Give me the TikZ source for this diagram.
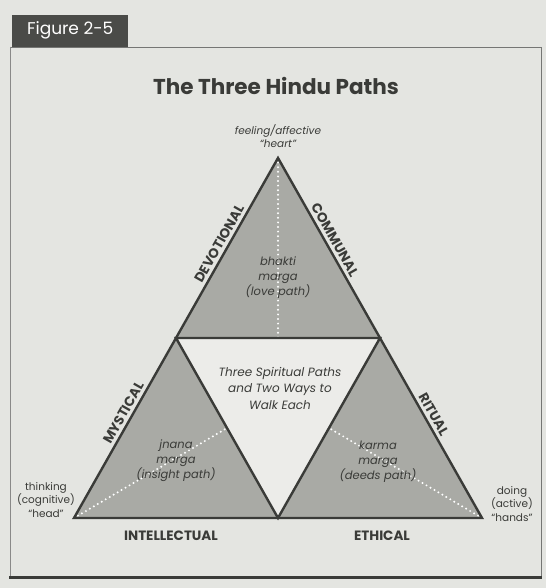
\documentclass[tikz,border=0pt]{standalone}
\usepackage{fontspec}
\setmainfont{Poppins}
\definecolor{bgc}{HTML}{E4E5E1}
\definecolor{innerc}{HTML}{ECECE9}
\definecolor{trif}{HTML}{A9AAA5}
\definecolor{linec}{HTML}{3A3B38}
\definecolor{tabc}{HTML}{4A4B48}
\definecolor{txtc}{HTML}{3A3B38}
\tikzset{
  tri/.style={fill=trif},
  edge/.style={draw=linec, line width=2.4pt, line join=miter},
  dots/.style={draw=white, line width=2.2pt, line cap=round, dash pattern=on 0pt off 4.6pt},
  path/.style={font=\itshape\fontsize{11.5}{15}\selectfont, text=txtc, align=center, inner sep=0pt},
  corner/.style={font=\fontsize{10.5}{13.5}\selectfont, text=txtc, align=center, inner sep=0pt},
  side/.style={font=\bfseries\fontsize{13.5}{16}\selectfont, text=txtc, inner sep=0pt},
}
\begin{document}
\begin{tikzpicture}[x=1pt,y=-1pt]
\fill[bgc] (0,0) rectangle (546,588);
\useasboundingbox (0,0) rectangle (546,588);
% frame
\draw[linec!70, line width=0.8pt] (10,47) -- (541,47) -- (541,577);
\draw[linec!60, line width=0.8pt] (10,47) -- (10,577);
\draw[linec, line width=3pt] (9,577) -- (542,577);
\node[fill=tabc, minimum width=116pt, minimum height=32pt, anchor=south west, inner sep=0pt,
      text=white, font=\fontsize{17}{20}\selectfont] (tab) at (12,47) {Figure 2-5};
\node[font=\bfseries\fontsize{21.5}{25}\selectfont, text=txtc] (title) at (276,86) {The Three Hindu Paths};
% vertices
\coordinate (A) at (278,158);
\coordinate (L) at (74,518);
\coordinate (R) at (482,518);
\coordinate (ML) at (176,338);
\coordinate (MR) at (380,338);
\coordinate (MB) at (278,518);
\coordinate (mt) at (278,338);
\coordinate (ml) at (227,428);
\coordinate (mr) at (329,428);
% fills
\fill[tri] (A) -- (ML) -- (MR) -- cycle;
\fill[tri] (ML) -- (L) -- (MB) -- cycle;
\fill[tri] (MR) -- (MB) -- (R) -- cycle;
\fill[innerc] (ML) -- (MR) -- (MB) -- cycle;
% dotted medians
\draw[dots] (A) -- (mt);
\draw[dots] (L) -- (ml);
\draw[dots] (R) -- (mr);
% outlines
\draw[edge] (A) -- (L) -- (R) -- cycle;
\draw[edge] (ML) -- (MR) -- (MB) -- cycle;
% labels
\node[corner] (heart) at (278,136) {\itshape feeling/affective\\\itshape “heart”};
\node[corner] (head) at (46,500) {thinking\\(cognitive)\\“head”};
\node[corner] (hands) at (512,504) {doing\\(active)\\“hands”};
\node[path] (bhakti) at (278,278) {bhakti\\marga\\(love path)};
\node[path] (jnana) at (176,461) {jnana\\marga\\(insight path)};
\node[path] (karma) at (378,462) {karma\\marga\\(deeds path)};
\node[path, font=\itshape\fontsize{12}{16.5}\selectfont] (center) at (280,388) {Three Spiritual Paths\\and Two Ways to\\Walk Each};
\path (ML) -- (A) node[side, sloped, pos=0.5, anchor=south, yshift=4pt] (devo) {DEVOTIONAL};
\path (A) -- (MR) node[side, sloped, pos=0.48, anchor=south, yshift=4pt] (comm) {COMMUNAL};
\path (L) -- (ML) node[side, sloped, pos=0.56, anchor=south, yshift=4pt] (myst) {MYSTICAL};
\path (MR) -- (R) node[side, sloped, pos=0.45, anchor=south, yshift=4pt] (ritual) {RITUAL};
\node[side] (intel) at (171,536) {INTELLECTUAL};
\node[side] (ethic) at (382,536) {ETHICAL};
\end{tikzpicture}
\end{document}
